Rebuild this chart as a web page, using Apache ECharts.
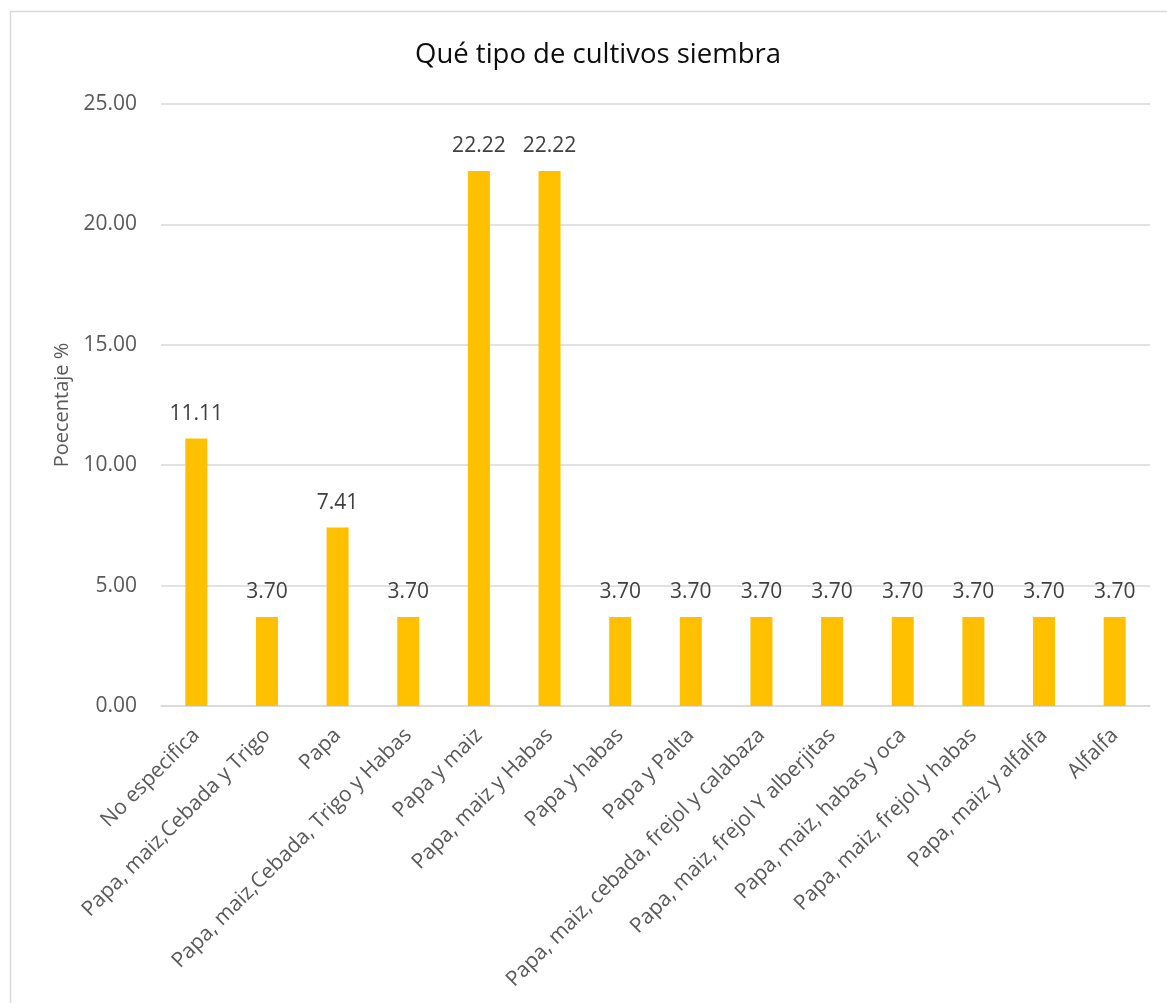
<!DOCTYPE html>
<html>
<head>
<meta charset="utf-8">
<script src="https://cdn.jsdelivr.net/npm/echarts@6/dist/echarts.min.js"></script>
<style>
  html, body { margin: 0; padding: 0; background: #fff; }
  #chart { width: 1167px; height: 1003px; }
</style>
</head>
<body>
<div id="chart"></div>
<script>
// Crop categories and the share of respondents growing each
const categories = [
  'No especifica',
  'Papa, maiz,Cebada y Trigo',
  'Papa',
  'Papa, maiz,Cebada, Trigo y Habas',
  'Papa y maiz',
  'Papa, maiz y Habas',
  'Papa y habas',
  'Papa y Palta',
  'Papa, maiz, cebada, frejol y calabaza',
  'Papa, maiz, frejol Y alberjitas',
  'Papa, maiz, habas y oca',
  'Papa, maiz, frejol y habas',
  'Papa, maiz y alfalfa',
  'Alfalfa'
];
const percentages = [11.11, 3.70, 7.41, 3.70, 22.22, 22.22, 3.70, 3.70, 3.70, 3.70, 3.70, 3.70, 3.70, 3.70];
const yTicks = { min: 0, max: 25, interval: 5 };

const FONT = '"Open Sans", "DejaVu Sans", sans-serif';
const chart = echarts.init(document.getElementById('chart'), null, { renderer: 'canvas' });

chart.setOption({
  backgroundColor: '#ffffff',
  animation: false,
  graphic: [{
    type: 'rect',
    silent: true,
    shape: { x: 10.5, y: 11.5, width: 1170, height: 1010 },
    style: { fill: 'none', stroke: '#d9d9d9', lineWidth: 1.5 }
  }],
  title: {
    text: 'Qué tipo de cultivos siembra',
    left: 410,
    top: 36,
    textStyle: { fontFamily: FONT, fontSize: 27.5, fontWeight: 'normal', color: '#0d0d0d' }
  },
  grid: { left: 161, right: 17, top: 104, bottom: 297, containLabel: false },
  xAxis: {
    type: 'category',
    data: categories,
    axisLine: { show: true, lineStyle: { color: '#d9d9d9', width: 1.5 } },
    axisTick: { show: false },
    axisLabel: {
      interval: 0,
      rotate: 45,
      margin: 26,
      fontFamily: FONT,
      fontSize: 21,
      color: '#595959'
    }
  },
  yAxis: {
    type: 'value',
    min: yTicks.min,
    max: yTicks.max,
    interval: yTicks.interval,
    name: 'Poecentaje %',
    nameLocation: 'middle',
    nameGap: 88,
    nameTextStyle: { fontFamily: FONT, fontSize: 20, color: '#595959' },
    axisLine: { show: false },
    axisTick: { show: false },
    splitLine: { lineStyle: { color: '#d9d9d9', width: 1.5 } },
    axisLabel: {
      margin: 24,
      fontFamily: FONT,
      fontSize: 21,
      color: '#595959',
      formatter: v => v.toFixed(2)
    }
  },
  series: [{
    type: 'bar',
    data: percentages,
    barWidth: 22,
    itemStyle: { color: '#FFC000' },
    label: {
      show: true,
      position: 'top',
      distance: 14,
      fontFamily: FONT,
      fontSize: 21,
      color: '#404040',
      formatter: p => p.value.toFixed(2)
    }
  }]
});
</script>
</body>
</html>
